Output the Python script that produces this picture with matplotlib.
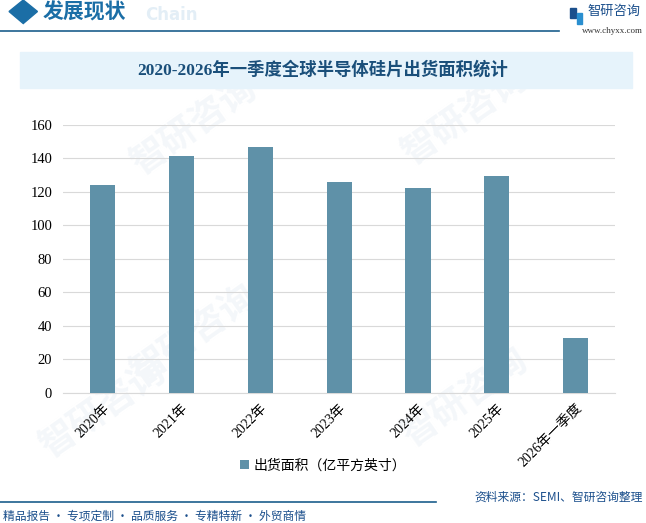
import matplotlib.pyplot as plt
from matplotlib.patches import Rectangle, Polygon
import matplotlib.lines as mlines

plt.rcParams['font.family'] = ['Liberation Serif', 'Noto Sans CJK SC']

# data
categories = ['2020年', '2021年', '2022年', '2023年', '2024年', '2025年', '2026年一季度']
values = [124.2, 141.5, 146.9, 126.0, 122.4, 129.6, 32.8]
yticks = [0, 20, 40, 60, 80, 100, 120, 140, 160]
bar_color = '#5f91a8'

fig = plt.figure(figsize=(6.46, 5.23), dpi=100)

# faint watermarks (behind everything)
for (wx, wy) in [(0.3, 0.76), (0.72, 0.78), (0.3, 0.36), (0.72, 0.24), (0.16, 0.22)]:
    fig.text(wx, wy, '智研咨询', fontsize=26, color='#f4f7fa', rotation=35,
             ha='center', va='center', family='Noto Sans CJK SC', fontweight='bold', zorder=-5)

# header
fig.patches.append(Polygon([[0.014, 0.978], [0.036, 0.955], [0.058, 0.978], [0.036, 1.0]],
                           closed=True, transform=fig.transFigure, color='#1b6ea6', zorder=2))
fig.text(0.066, 0.977, '发展现状', fontsize=15, color='#1b6ea6', fontweight='bold',
         family='Noto Sans CJK SC', va='center', ha='left')
fig.text(0.225, 0.972, 'Chain', fontsize=12, color='#e3eef6', fontweight='bold',
         family='DejaVu Sans', va='center', ha='left')
fig.lines.append(mlines.Line2D([0, 0.865], [0.94, 0.94], transform=fig.transFigure,
                               color='#1b5f8c', lw=1.2))
fig.patches.append(Rectangle((0.883, 0.965), 0.008, 0.02, transform=fig.transFigure, color='#1b4f8c'))
fig.patches.append(Rectangle((0.893, 0.955), 0.008, 0.02, transform=fig.transFigure, color='#2a8fd0'))
fig.text(0.91, 0.978, '智研咨询', fontsize=9.5, color='#1b4f8c', family='Noto Sans CJK SC',
         va='center', ha='left')
fig.text(0.995, 0.94, 'www.chyxx.com', fontsize=6.5, color='#333333', va='center', ha='right')

# title box
fig.patches.append(Rectangle((0.031, 0.832), 0.948, 0.068, transform=fig.transFigure,
                             color='#e6f3fb', zorder=1))
fig.text(0.5, 0.866, '2020-2026年一季度全球半导体硅片出货面积统计', fontsize=12.5,
         color='#1a4f7a', fontweight='bold', ha='center', va='center',
         family=['Liberation Serif', 'Noto Sans CJK SC'])

# axes
ax = fig.add_axes([0.098, 0.2486, 0.854, 0.5124])
ax.patch.set_alpha(0)
x = range(len(categories))
ax.bar(x, values, width=0.32, color=bar_color, zorder=3, label='出货面积（亿平方英寸）')
ax.set_ylim(0, 160)
ax.set_xlim(-0.5, len(categories) - 0.5)
ax.set_yticks(yticks)
ax.set_yticklabels([str(v) for v in yticks], fontsize=10.5)
ax.set_xticks(list(x))
ax.set_xticklabels(categories, rotation=45, ha='right', rotation_mode='anchor', fontsize=10,
                   family=['Liberation Serif', 'Noto Sans CJK SC'])
ax.grid(axis='y', color='#d9d9d9', lw=0.8, zorder=0)
for s in ['top', 'right', 'left']:
    ax.spines[s].set_visible(False)
ax.spines['bottom'].set_color('#d9d9d9')
ax.tick_params(length=0, pad=8)
ax.tick_params(axis='x', pad=6)

leg = fig.legend(loc='center', bbox_to_anchor=(0.5, 0.11), frameon=False,
                 prop={'family': 'Noto Sans CJK SC', 'size': 10}, handlelength=0.7,
                 handleheight=0.7, handletextpad=0.3)

# footer
fig.lines.append(mlines.Line2D([0, 0.675], [0.04, 0.04], transform=fig.transFigure,
                               color='#1b5f8c', lw=1.2))
fig.text(0.005, 0.014, '精品报告 · 专项定制 · 品质服务 · 专精特新 · 外贸商情', fontsize=8.5,
         color='#1b4f8c', family='Noto Sans CJK SC', va='center', ha='left')
fig.text(0.995, 0.05, '资料来源：SEMI、智研咨询整理', fontsize=8.5, color='#1b4f8c',
         family='Noto Sans CJK SC', va='center', ha='right')

fig.savefig('out.png', dpi=100)
